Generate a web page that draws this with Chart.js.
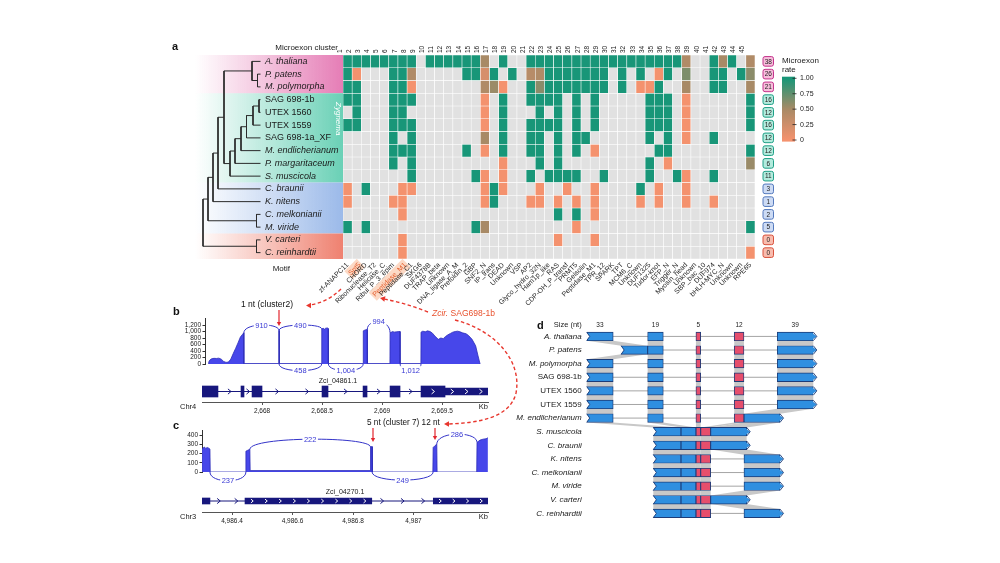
<!DOCTYPE html>
<html>
<head>
<meta charset="utf-8">
<script src="https://cdn.jsdelivr.net/npm/chart.js@4.4.0/dist/chart.umd.min.js"></script>
<style>
  html, body { margin: 0; padding: 0; background: #fff; }
  #page { position: relative; width: 1000px; height: 563px; overflow: hidden; background: #fff; }
  #page canvas { position: absolute; }
</style>
</head>
<body>
<div id="page"></div>
<script>
// ==============================
// Data: panel a (microexon heatmap)
// ==============================
const _ = null;   // cluster absent in that genome

const species = ['A. thaliana', 'P. patens', 'M. polymorpha', 'SAG 698-1b', 'UTEX 1560', 'UTEX 1559',
  'SAG 698-1a_XF', 'M. endlicherianum', 'P. margaritaceum', 'S. muscicola', 'C. braunii', 'K. nitens',
  'C. melkonianii', 'M. viride', 'V. carteri', 'C. reinhardtii'];
const italicName = [true, true, true, false, false, false, false, true, true, true, true, true, true, true, true, true];
const speciesGroup = [0, 0, 0, 1, 1, 1, 1, 1, 1, 1, 2, 2, 2, 2, 3, 3];
const microexonCount = [38, 26, 21, 16, 12, 16, 12, 12, 6, 11, 3, 1, 2, 5, 0, 0];

const clusterIds = ['1','2','3','4','5','6','7','8','9','10','11','12','13','14','15','16','17','18','19','20',
  '21','22','23','24','25','26','27','28','29','30','31','32','33','34','35','36','37','38','39','40',
  '41','42','43','44','45'];
const motifs = ['zf-ANAPC11', 'Spt5', 'CHORD', 'Ribonuclease_T2', 'Helicase_C', 'Ribul_P_3_epim', 'Peptidase_M1',
  'Peptidase_C1', 'SKG6', 'DUF4378B', 'TRAP_beta', 'Unknown', 'DNA_ligase_A_M', 'Prefoldin_2', 'GBP', 'SNF2_N',
  'IP_trans', 'DEAD', 'Unknown', 'VSP', 'AP2', 'Glyco_hydro_32N', 'Ham1p_like', 'RAS', 'CDP-OH_P_transf', 'PRMT5',
  'Gelsolin', 'Peptidase_M1', 'TPR_12', 'SPARK', 'TPT', 'MCM6_C', 'Unknown', 'DUF1325', 'Tudor-knot', 'EFP_N',
  'Trigger_N', 'Myosin_head', 'Unknown', 'SBP_bac_10', 'DUF974', 'bHLH-MYC_N', 'Unknown', 'Unknown', 'RPE65'];
const highlightedMotifs = [1, 6];

// microexon rate per cluster (groups of 5 clusters)
const rateAthal    = [1,1,1,1,1,  1,1,1,_,1,  1,1,1,1,1,  .5,_,1,_,_,  1,1,1,1,1,  1,1,1,1,1,  1,1,1,1,1,  1,1,.45,_,_,  1,.5,1,_,.45];
const ratePpat     = [1,0,_,_,_,  1,1,.45,_,_,  _,_,_,1,1,  .2,1,_,1,_,  .4,.45,1,1,1,  1,1,1,1,_,  1,_,1,_,0,  1,_,.65,_,_,  1,1,_,1,.6];
const rateMpol     = [1,1,_,_,_,  1,1,0,_,_,  _,_,_,_,_,  .45,.55,0,_,_,  1,.6,1,1,1,  1,1,1,1,_,  1,_,0,0,1,  _,_,.5,_,_,  1,1,_,_,.5];
const rateSag1b    = [1,1,_,_,_,  1,1,1,_,_,  _,_,_,_,_,  0,_,1,_,_,  1,1,1,1,_,  1,_,1,_,_,  _,_,_,1,1,  1,_,0,_,_,  _,_,_,_,1];
const rateUtex1560 = [_,1,_,_,_,  1,1,_,_,_,  _,_,_,_,_,  0,_,1,_,_,  _,1,_,1,_,  1,_,1,_,_,  _,_,_,1,1,  1,_,0,_,_,  _,_,_,_,1];
const rateUtex1559 = [1,1,_,_,_,  1,1,1,_,_,  _,_,_,_,_,  0,_,1,_,_,  1,1,1,1,_,  1,_,1,_,_,  _,_,_,1,1,  1,_,0,_,_,  _,_,_,_,1];
const rateSagXF    = [_,_,_,_,_,  1,_,1,_,_,  _,_,_,_,_,  .5,_,1,_,_,  1,1,_,1,_,  1,1,_,_,_,  _,_,_,1,_,  1,_,0,_,_,  1,_,_,_,_];
const rateMendl    = [_,_,_,_,_,  1,1,1,_,_,  _,_,_,1,_,  0,_,1,_,_,  1,1,_,1,_,  1,_,0,_,_,  _,_,_,_,1,  1,_,_,_,_,  _,_,_,_,1];
const ratePmarg    = [_,_,_,_,_,  1,_,1,_,_,  _,_,_,_,_,  _,_,0,_,_,  _,1,_,1,_,  _,_,_,_,_,  _,_,_,1,_,  0,_,_,_,_,  _,_,_,_,.55];
const rateSmusc    = [_,_,_,_,_,  _,_,1,_,_,  _,_,_,_,1,  0,_,0,_,_,  1,_,1,1,1,  1,_,_,1,_,  _,_,_,1,_,  _,1,0,_,_,  1,_,_,_,_];
const rateCbraun   = [0,_,1,_,_,  _,0,0,_,_,  _,_,_,_,_,  0,1,0,_,_,  _,0,_,_,0,  _,_,0,_,_,  _,_,1,_,0,  _,_,0,_,_,  _,_,_,_,_];
const rateKnit     = [0,_,_,_,_,  0,0,_,_,_,  _,_,_,_,_,  0,1,_,_,_,  0,0,_,0,_,  0,_,0,_,_,  _,_,0,_,0,  _,_,0,_,_,  0,_,_,_,_];
const rateCmelk    = [_,_,_,_,_,  _,0,_,_,_,  _,_,_,_,_,  _,_,_,_,_,  _,_,_,1,_,  1,_,0,_,_,  _,_,_,_,_,  _,_,_,_,_,  _,_,_,_,_];
const rateMvir     = [1,_,1,_,_,  _,_,_,_,_,  _,_,_,_,1,  .5,_,_,_,_,  _,_,_,_,_,  0,_,_,_,_,  _,_,_,_,_,  _,_,_,_,_,  _,_,_,_,1];
const rateVcar     = [_,_,_,_,_,  _,0,_,_,_,  _,_,_,_,_,  _,_,_,_,_,  _,_,_,0,_,  _,_,0,_,_,  _,_,_,_,_,  _,_,_,_,_,  _,_,_,_,_];
const rateCrein    = [_,_,_,_,_,  _,0,_,_,_,  _,_,_,_,_,  _,_,_,_,_,  _,_,_,_,_,  _,_,_,_,_,  _,_,_,_,_,  _,_,_,_,_,  _,_,_,_,0];
const rateRows = [rateAthal, ratePpat, rateMpol, rateSag1b, rateUtex1560, rateUtex1559, rateSagXF, rateMendl,
  ratePmarg, rateSmusc, rateCbraun, rateKnit, rateCmelk, rateMvir, rateVcar, rateCrein];

const colorbarTicks = [1, 0.75, 0.5, 0.25, 0];
const colorbarLabels = ['1.00', '0.75', '0.50', '0.25', '0'];

// tree: [node, depth, child, child]; tips sit at tipDepth
const tipDepth = 57.5;
const treeNodes = [
  ['ppmp', 54.5, 'P. patens', 'M. polymorpha'],
  ['embryo', 49, 'A. thaliana', 'ppmp'],
  ['z1', 56, 'SAG 698-1b', 'UTEX 1560'],
  ['z2', 50, 'z1', 'UTEX 1559'],
  ['z3', 43.5, 'z2', 'SAG 698-1a_XF'],
  ['z4', 38, 'z3', 'M. endlicherianum'],
  ['z5', 32, 'z4', 'P. margaritaceum'],
  ['zyg', 27, 'z5', 'S. muscicola'],
  ['landzyg', 21, 'embryo', 'zyg'],
  ['cb', 15, 'landzyg', 'C. braunii'],
  ['kn', 10, 'cb', 'K. nitens'],
  ['mm', 53.5, 'C. melkonianii', 'M. viride'],
  ['strepto', 5, 'kn', 'mm'],
  ['chloro', 53.5, 'V. carteri', 'C. reinhardtii'],
  ['root', 0, 'strepto', 'chloro']
];

// ==============================
// Data: panel b (Zci_04861.1)
// ==============================
const coverageBPos = [2667.552, 2667.556, 2667.565, 2667.58, 2667.60, 2667.62, 2667.64, 2667.66, 2667.68, 2667.70,
  2667.72, 2667.74, 2667.76, 2667.78, 2667.80, 2667.82, 2667.835, 2667.848, 2667.849, 2668.140,
  2668.141, 2668.143, 2668.144, 2668.497, 2668.498, 2668.51, 2668.52, 2668.53, 2668.545, 2668.552,
  2668.553, 2668.843, 2668.844, 2668.86, 2668.877, 2668.878, 2669.066, 2669.067, 2669.09, 2669.10,
  2669.12, 2669.15, 2669.151, 2669.324, 2669.325, 2669.34, 2669.36, 2669.38, 2669.40, 2669.42,
  2669.44, 2669.46, 2669.47, 2669.49, 2669.51, 2669.53, 2669.55, 2669.57, 2669.59, 2669.61,
  2669.63, 2669.65, 2669.67, 2669.70, 2669.72, 2669.75, 2669.78, 2669.80, 2669.817];
const coverageBVal = [0, 60, 120, 160, 175, 170, 180, 150, 80, 50,
  60, 150, 320, 480, 650, 830, 900, 960, 12, 12,
  1030, 1030, 12, 12, 1080, 1100, 1070, 1100, 1110, 1090,
  12, 12, 1020, 1050, 1060, 12, 12, 960, 1000, 980,
  990, 1000, 12, 12, 980, 1010, 990, 1020, 1000, 950,
  860, 790, 760, 800, 780, 850, 900, 940, 980, 1000,
  1010, 990, 960, 930, 880, 760, 560, 250, 0];
const covTicksB = [0, 200, 400, 600, 800, 1000, 1200];
const kbTicksB = [2668, 2668.5, 2669, 2669.5];
const junctionBFrom  = [2667.849, 2668.142, 2668.877, 2668.142, 2668.553, 2669.151];
const junctionBTo    = [2668.142, 2668.497, 2669.067, 2668.497, 2668.843, 2669.325];
const junctionBEnds  = [[960, 1030], [1030, 1080], [1060, 960], [0, 0], [0, 0], [0, 0]];
const junctionBPeak  = [1200, 1200, 1300, -205, -205, -205];
const junctionBReads = ['910', '490', '994', '458', '1,004', '1,012'];
const geneBExons = [[2667.50, 2667.633], [2667.825, 2667.85], [2667.917, 2668.0], [2668.5, 2668.55],
  [2668.842, 2668.875], [2669.067, 2669.15], [2669.325, 2669.525]];
const geneBUtr = [[2669.525, 2669.883]];

// ==============================
// Data: panel c (Zci_04270.1)
// ==============================
const coverageCPos = [4986.301, 4986.305, 4986.309, 4986.313, 4986.318, 4986.323, 4986.327, 4986.328,
  4986.445, 4986.446, 4986.452, 4986.459, 4986.460, 4986.857, 4986.858, 4986.863, 4986.864,
  4987.064, 4987.065, 4987.071, 4987.077, 4987.078, 4987.209, 4987.210, 4987.22, 4987.23, 4987.24, 4987.246];
const coverageCVal = [250, 262, 270, 255, 265, 258, 248, 0,
  0, 225, 235, 245, 15, 15, 270, 275, 0,
  0, 265, 285, 300, 0, 0, 320, 345, 355, 360, 370];
const covTicksC = [0, 100, 200, 300, 400];
const kbTicksC = [4986.4, 4986.6, 4986.8, 4987];
const junctionCFrom  = [4986.459, 4987.077, 4986.327, 4986.863];
const junctionCTo    = [4986.858, 4987.210, 4986.446, 4987.065];
const junctionCEnds  = [[245, 270], [300, 320], [0, 0], [0, 0]];
const junctionCPeak  = [355, 410, -95, -88];
const junctionCReads = ['222', '286', '237', '249'];
const geneCExons = [[4986.3008, 4986.327], [4986.443, 4986.862], [4987.0655, 4987.2463]];

// ==============================
// Data: panel d (exon alignment, schematic units 0-100)
// ==============================
const alignSpecies = ['A. thaliana', 'P. patens', 'M. polymorpha', 'SAG 698-1b', 'UTEX 1560', 'UTEX 1559',
  'M. endlicherianum', 'S. muscicola', 'C. braunii', 'K. nitens', 'C. melkonianii', 'M. viride', 'V. carteri', 'C. reinhardtii'];
const alignItalic = [true, true, true, false, false, false, true, true, true, true, true, true, true, true];
const exonSizes = ['33', '19', '5', '12', '39'];
const exonSizeCenters = [5.85, 30.35, 49.25, 67.25, 92];
const exon33 = [[0, 11.7], [15.2, 26.9], [0, 11.7], [0, 11.7], [0, 11.7], [0, 11.7], [0, 11.7],
  [29.4, 41.6], [29.4, 41.6], [29.4, 41.6], [29.4, 41.6], [29.4, 41.6], [29.4, 41.6], [29.4, 41.6]];
const exon19 = [[26.9, 33.8], [26.9, 33.8], [26.9, 33.8], [26.9, 33.8], [26.9, 33.8], [26.9, 33.8], [26.9, 33.8],
  [41.6, 48.2], [41.6, 48.2], [41.6, 48.2], [41.6, 48.2], [41.6, 48.2], [41.6, 48.2], [41.6, 48.2]];
const exon5 = [[48.2, 50.3], [48.2, 50.3], [48.2, 50.3], [48.2, 50.3], [48.2, 50.3], [48.2, 50.3], [48.2, 50.3],
  [48.2, 50.3], [48.2, 50.3], [48.2, 50.3], [48.2, 50.3], [48.2, 50.3], [48.2, 50.3], [48.2, 50.3]];
const exon12 = [[65.1, 69.4], [65.1, 69.4], [65.1, 69.4], [65.1, 69.4], [65.1, 69.4], [65.1, 69.4], [65.1, 69.4],
  [50.3, 54.7], [50.3, 54.7], [50.3, 54.7], [50.3, 54.7], [50.3, 54.7], [50.3, 54.7], [50.3, 54.7]];
const exon39 = [[84.1, 100], [84.1, 100], [84.1, 100], [84.1, 100], [84.1, 100], [84.1, 100], [69.4, 85.3],
  [54.7, 70.6], [54.7, 70.6], [69.4, 85.3], [69.4, 85.3], [69.4, 85.3], [54.7, 70.6], [69.4, 85.3]];

// ==============================
// Common settings
// ==============================
const FONT = "'Liberation Sans', Arial, Helvetica, sans-serif";
Chart.defaults.font.family = FONT;
Chart.defaults.color = '#1a1a1a';
Chart.defaults.animation = false;
Chart.defaults.events = [];
Chart.defaults.plugins.legend.display = false;
Chart.defaults.plugins.tooltip.enabled = false;

const groupFill = ['#f7bddb', '#b3ebdd', '#cddbf4', '#f8bcae'];
const groupStroke = ['#c4348c', '#1f9f86', '#5479bd', '#d8513c'];
const bandRgb = ['228,118,178', '98,206,178', '150,182,232', '238,122,104'];
const NAVY = '#17177d';

const cLow = [244, 146, 110], cMid = [168, 138, 102], cHigh = [24, 150, 120];
function mix(a, b, t) {
  return 'rgb(' + a.map((v, i) => Math.round(v + (b[i] - v) * t)).join(',') + ')';
}
function rateColor(v) {
  if (v === null) return '#e1e1e1';
  return v < 0.5 ? mix(cLow, cMid, v / 0.5) : mix(cMid, cHigh, (v - 0.5) / 0.5);
}

function addCanvas(left, top, width, height) {
  const c = document.createElement('canvas');
  c.width = width; c.height = height;
  c.style.left = left + 'px'; c.style.top = top + 'px';
  c.style.width = width + 'px'; c.style.height = height + 'px';
  document.getElementById('page').appendChild(c);
  return c;
}
function roundRect(ctx, x, y, w, h, r) {
  ctx.beginPath();
  ctx.moveTo(x + r, y); ctx.lineTo(x + w - r, y); ctx.quadraticCurveTo(x + w, y, x + w, y + r);
  ctx.lineTo(x + w, y + h - r); ctx.quadraticCurveTo(x + w, y + h, x + w - r, y + h);
  ctx.lineTo(x + r, y + h); ctx.quadraticCurveTo(x, y + h, x, y + h - r);
  ctx.lineTo(x, y + r); ctx.quadraticCurveTo(x, y, x + r, y); ctx.closePath();
}
function chevron(ctx, cx, cy, s, color, lw) {
  ctx.beginPath();
  ctx.moveTo(cx - s * 0.6, cy - s); ctx.lineTo(cx + s * 0.6, cy); ctx.lineTo(cx - s * 0.6, cy + s);
  ctx.strokeStyle = color; ctx.lineWidth = lw; ctx.stroke();
}

// ==============================
// Panel a: tree + species labels
// ==============================
const treeBands = {
  id: 'treeBands',
  beforeDraw(chart) {
    const {ctx, scales: {y}} = chart;
    const groups = [[0, 2], [3, 9], [10, 13], [14, 15]];
    ctx.save();
    groups.forEach(([r0, r1], g) => {
      const top = y.getPixelForValue(r0 - 0.5), bot = y.getPixelForValue(r1 + 0.5);
      const x0 = 25, x1 = 173;
      const grad = ctx.createLinearGradient(x0, 0, x1, 0);
      grad.addColorStop(0, 'rgba(' + bandRgb[g] + ',0)');
      grad.addColorStop(0.5, 'rgba(' + bandRgb[g] + ',0.45)');
      grad.addColorStop(1, 'rgba(' + bandRgb[g] + ',0.95)');
      ctx.fillStyle = grad;
      ctx.fillRect(x0, top, x1 - x0, bot - top);
    });
    ctx.restore();
  },
  afterDraw(chart) {
    const {ctx, scales: {y}} = chart;
    ctx.save();
    const yc = (y.getPixelForValue(2.5) + y.getPixelForValue(6.5)) / 2;
    ctx.translate(168, yc);
    ctx.rotate(Math.PI / 2);
    ctx.font = 'italic 8px ' + FONT;
    ctx.fillStyle = '#ffffff';
    ctx.textAlign = 'center'; ctx.textBaseline = 'middle';
    ctx.fillText('Zygnema', 0, 0);
    ctx.restore();
  }
};

const tipPos = {};
species.forEach((s, i) => { tipPos[s] = {x: tipDepth, y: i}; });
const treeSegments = treeNodes.map(([id, depth, a, b]) => {
  const A = tipPos[a], B = tipPos[b];
  tipPos[id] = {x: depth, y: (A.y + B.y) / 2};
  return [{x: A.x, y: A.y}, {x: depth, y: A.y}, {x: depth, y: B.y}, {x: B.x, y: B.y}];
});

new Chart(addCanvas(170, 30, 175, 240), {
  type: 'scatter',
  data: {
    datasets: treeSegments.map(seg => ({
      data: seg, showLine: true, borderColor: '#2a2a2a', borderWidth: 1, pointRadius: 0,
      fill: false, clip: false, xAxisID: 'x', yAxisID: 'y'
    }))
  },
  options: {
    responsive: false,
    layout: {padding: {left: 30, right: 1, top: 25, bottom: 11}},
    scales: {
      x: {type: 'linear', min: -3, max: 59, display: false},
      y: {type: 'linear', min: -0.5, max: 15.5, reverse: true, display: false},
      yLab: {
        type: 'category', labels: species, position: 'right', offset: true,
        grid: {display: false, drawTicks: false}, border: {display: false},
        ticks: {autoSkip: false, crossAlign: 'near', padding: 3, color: '#1a1a1a',
          font: c => ({size: 9, style: italicName[c.index] ? 'italic' : 'normal'})},
        afterFit: s => { s.width = 82; }
      }
    }
  },
  plugins: [treeBands]
});

// ==============================
// Panel a: heatmap
// ==============================
const heatExtras = {
  id: 'heatExtras',
  afterDraw(chart) {
    const {ctx, chartArea: a, scales: {y}} = chart;
    ctx.save();
    ctx.fillStyle = '#1a1a1a'; ctx.textBaseline = 'middle'; ctx.textAlign = 'right';
    ctx.font = '8px ' + FONT;
    ctx.fillText('Microexon cluster', a.left - 5, 48);
    ctx.fillText('Motif', a.left - 53, 269);

    // microexon counts per genome
    species.forEach((sp, r) => {
      const yc = (y.getPixelForValue(r) + y.getPixelForValue(r + 1)) / 2;
      const g = speciesGroup[r];
      const bx = a.right + 8, bw = 10.5, bh = 9.6;
      roundRect(ctx, bx, yc - bh / 2, bw, bh, 2);
      ctx.fillStyle = groupFill[g]; ctx.fill();
      ctx.lineWidth = 1; ctx.strokeStyle = groupStroke[g]; ctx.stroke();
      ctx.fillStyle = '#222'; ctx.textAlign = 'center';
      ctx.font = '6.5px ' + FONT;
      ctx.fillText(String(microexonCount[r]), bx + bw / 2, yc + 0.5);
    });

    // colour bar
    const cbX = a.right + 27, cbW = 13, v1 = 78.3, v0 = 140;
    const grad = ctx.createLinearGradient(0, v1, 0, v0);
    grad.addColorStop(0, rateColor(1)); grad.addColorStop(0.5, rateColor(0.5)); grad.addColorStop(1, rateColor(0));
    ctx.fillStyle = grad;
    ctx.fillRect(cbX, v1 - 1.6, cbW, v0 - v1 + 3.2);
    ctx.textAlign = 'left'; ctx.font = '7px ' + FONT;
    colorbarTicks.forEach((t, i) => {
      const yy = v0 - t * (v0 - v1);
      ctx.beginPath(); ctx.moveTo(cbX + cbW - 2.5, yy); ctx.lineTo(cbX + cbW + 1.5, yy);
      ctx.strokeStyle = '#222'; ctx.lineWidth = 0.8; ctx.stroke();
      ctx.fillStyle = '#1a1a1a';
      ctx.fillText(colorbarLabels[i], cbX + cbW + 5, yy);
    });
    ctx.font = '8px ' + FONT;
    ctx.fillText('Microexon', cbX, 61);
    ctx.fillText('rate', cbX, 70);
    ctx.restore();
  }
};

new Chart(addCanvas(250, 0, 600, 340), {
  type: 'bar',
  data: {
    labels: motifs,
    datasets: species.map((sp, r) => ({
      label: sp,
      data: motifs.map(() => 1),
      backgroundColor: rateRows[r].map(rateColor),
      borderColor: '#ffffff', borderWidth: 0.6, borderSkipped: false,
      barPercentage: 1, categoryPercentage: 1,
      xAxisID: 'x', yAxisID: 'y'
    }))
  },
  options: {
    responsive: false,
    layout: {padding: {left: 93, right: 95, top: 41, bottom: 21}},
    scales: {
      x: {
        type: 'category', position: 'bottom', stacked: true, offset: true,
        grid: {display: false, drawTicks: false}, border: {display: false},
        ticks: {
          autoSkip: false, minRotation: 45, maxRotation: 45, padding: 2,
          font: {size: 7},
          color: c => highlightedMotifs.includes(c.index) ? '#e45b2a' : '#1f1f1f',
          showLabelBackdrop: c => highlightedMotifs.includes(c.index),
          backdropColor: '#fcd9c5', backdropPadding: 1.5
        },
        afterFit: s => { s.height = 60; }
      },
      xTop: {
        type: 'category', labels: clusterIds, position: 'top', offset: true,
        grid: {display: false, drawTicks: false}, border: {display: false},
        ticks: {autoSkip: false, minRotation: 90, maxRotation: 90, padding: 2, font: {size: 6.5}},
        afterFit: s => { s.height = 14; }
      },
      y: {stacked: true, min: 0, max: 16, reverse: true, display: false}
    }
  },
  plugins: [heatExtras]
});

// ==============================
// Panels b and c: coverage with junction arcs
// ==============================
function arcsPlugin(from, to, ends, peak, reads) {
  return {
    id: 'arcs',
    afterDatasetsDraw(chart) {
      const {ctx, scales: {x, y}} = chart;
      ctx.save();
      from.forEach((f, i) => {
        const x1 = x.getPixelForValue(f), x2 = x.getPixelForValue(to[i]);
        const y1 = y.getPixelForValue(ends[i][0]), y2 = y.getPixelForValue(ends[i][1]);
        const yp = y.getPixelForValue(peak[i]);
        const yc = (8 * yp - y1 - y2) / 6;
        ctx.beginPath(); ctx.moveTo(x1, y1);
        ctx.bezierCurveTo(x1, yc, x2, yc, x2, y2);
        ctx.strokeStyle = '#3333c8'; ctx.lineWidth = 1; ctx.stroke();
        const xm = (x1 + x2) / 2;
        ctx.font = '7.5px ' + FONT;
        const w = ctx.measureText(reads[i]).width;
        ctx.fillStyle = '#ffffff';
        ctx.fillRect(xm - w / 2 - 1.5, yp - 4.5, w + 3, 9);
        ctx.fillStyle = '#3838d4'; ctx.textAlign = 'center'; ctx.textBaseline = 'middle';
        ctx.fillText(reads[i], xm, yp + 0.5);
      });
      ctx.restore();
    }
  };
}

function coverageChart(canvas, pos, val, xmin, xmax, ymax, ticks, pad, axisW, arcs) {
  return new Chart(canvas, {
    type: 'line',
    data: {
      datasets: [{
        data: pos.map((p, i) => ({x: p, y: val[i]})),
        fill: 'origin', backgroundColor: '#4747ea', borderColor: '#2c2cb8', borderWidth: 0.8,
        pointRadius: 0, tension: 0
      }]
    },
    options: {
      responsive: false,
      layout: {padding: pad},
      scales: {
        x: {type: 'linear', min: xmin, max: xmax, display: false},
        y: {
          type: 'linear', min: 0, max: ymax,
          afterBuildTicks: s => { s.ticks = ticks.map(v => ({value: v})); },
          ticks: {autoSkip: false, font: {size: 6.5}, padding: 1.5, color: '#1a1a1a',
            callback: v => v.toLocaleString('en-US')},
          grid: {drawOnChartArea: false, tickLength: 2.5, color: '#333'},
          border: {color: '#333'},
          afterFit: s => { s.width = axisW; }
        }
      }
    },
    plugins: [arcs]
  });
}

coverageChart(addCanvas(165, 300, 340, 82), coverageBPos, coverageBVal, 2667.525, 2669.883, 1400, covTicksB,
  {left: 15, right: 17, top: 18.5, bottom: 18}, 25,
  arcsPlugin(junctionBFrom, junctionBTo, junctionBEnds, junctionBPeak, junctionBReads));

coverageChart(addCanvas(165, 415, 340, 75), coverageCPos, coverageCVal, 4986.3008, 4987.2463, 450, covTicksC,
  {left: 13, right: 17, top: 15.4, bottom: 18}, 24,
  arcsPlugin(junctionCFrom, junctionCTo, junctionCEnds, junctionCPeak, junctionCReads));

// ==============================
// Panels b and c: gene models
// ==============================
function geneDecor(opts) {
  return {
    id: 'geneDecor',
    beforeDatasetsDraw(chart) {
      const {ctx, scales: {x, y}} = chart;
      const yc = y.getPixelForValue(0);
      const all = opts.parts.slice().sort((p, q) => p[0] - q[0]);
      ctx.save();
      ctx.strokeStyle = NAVY; ctx.lineWidth = 1;
      ctx.beginPath();
      ctx.moveTo(x.getPixelForValue(all[0][0]), yc);
      ctx.lineTo(x.getPixelForValue(all[all.length - 1][1]), yc);
      ctx.stroke();
      for (let i = 0; i < all.length - 1; i++) {
        const a = x.getPixelForValue(all[i][1]), b = x.getPixelForValue(all[i + 1][0]);
        const gap = b - a;
        if (gap < 8) continue;
        const n = Math.max(1, Math.round(gap / opts.intronStep));
        for (let k = 0; k < n; k++) chevron(ctx, a + (k + 0.5) * gap / n, yc, 2.6, NAVY, 1);
      }
      ctx.restore();
    },
    afterDatasetsDraw(chart) {
      const {ctx, chartArea: ca, scales: {x, y}} = chart;
      const yc = y.getPixelForValue(0);
      ctx.save();
      opts.parts.forEach(([s, e]) => {
        const a = x.getPixelForValue(s), b = x.getPixelForValue(e);
        const w = b - a;
        if (w < 20) return;
        const n = Math.floor(w / 13);
        for (let k = 0; k < n; k++) chevron(ctx, a + (k + 0.5) * w / n, yc, opts.whiteSize, '#ffffff', 1);
      });
      ctx.fillStyle = '#1a1a1a'; ctx.textBaseline = 'middle';
      ctx.font = '7px ' + FONT; ctx.textAlign = 'center';
      ctx.fillText(opts.name, x.getPixelForValue(opts.nameAt), yc - opts.nameDy);
      ctx.font = '7.5px ' + FONT; ctx.textAlign = 'left';
      ctx.fillText(opts.chr, ca.left - 22, ca.bottom + 4.5);
      ctx.textAlign = 'right';
      ctx.fillText('Kb', ca.right, ca.bottom + 4.5);
      ctx.restore();
    }
  };
}

function geneChart(canvas, thick, thin, thickW, thinW, xmin, xmax, ticks, pad, decor) {
  const sets = [{data: thick.map(([s, e]) => ({x: [s, e], y: 0})), barThickness: thickW}];
  if (thin.length) sets.push({data: thin.map(([s, e]) => ({x: [s, e], y: 0})), barThickness: thinW});
  return new Chart(canvas, {
    type: 'bar',
    data: {datasets: sets.map(d => Object.assign(d, {backgroundColor: NAVY, grouped: false, borderWidth: 0}))},
    options: {
      indexAxis: 'y', responsive: false,
      layout: {padding: pad},
      scales: {
        x: {
          type: 'linear', min: xmin, max: xmax,
          afterBuildTicks: s => { s.ticks = ticks.map(v => ({value: v})); },
          ticks: {autoSkip: false, font: {size: 6.5}, padding: 2, maxRotation: 0, color: '#1a1a1a',
            callback: v => v.toLocaleString('en-US', {maximumFractionDigits: 1})},
          grid: {drawOnChartArea: false, tickLength: 3, color: '#555'},
          border: {color: '#555'},
          afterFit: s => { s.height = 14; }
        },
        y: {type: 'linear', min: -1, max: 1, display: false}
      }
    },
    plugins: [decor]
  });
}

geneChart(addCanvas(165, 375, 340, 45), geneBExons, geneBUtr, 11, 7, 2667.5, 2669.883, kbTicksB,
  {left: 37, right: 17, top: 6, bottom: 4},
  geneDecor({parts: geneBExons.concat(geneBUtr), intronStep: 25, whiteSize: 2.4,
    name: 'Zci_04861.1', nameAt: 2668.633, nameDy: 10, chr: 'Chr4'}));

geneChart(addCanvas(165, 485, 340, 45), geneCExons, [], 6, 6, 4986.3008, 4987.2463, kbTicksC,
  {left: 37, right: 17, top: 5, bottom: 4},
  geneDecor({parts: geneCExons, intronStep: 18, whiteSize: 1.9,
    name: 'Zci_04270.1', nameAt: 4986.7736, nameDy: 9, chr: 'Chr3'}));

// ==============================
// Panel d: exon alignment
// ==============================
const BLUE = '#2f8fe0', RED = '#e64e6c', EDGE = '#1c3c78';
const alignDecor = {
  id: 'alignDecor',
  beforeDatasetsDraw(chart) {
    const {ctx} = chart;
    const metas = chart.data.datasets.map((d, i) => chart.getDatasetMeta(i).data);
    const lo = e => Math.min(e.x, e.base), hi = e => Math.max(e.x, e.base);
    ctx.save();
    alignSpecies.forEach((sp, r) => {
      const els = metas.map(m => m[r]);
      ctx.beginPath();
      ctx.moveTo(Math.min(...els.map(lo)), els[0].y);
      ctx.lineTo(Math.max(...els.map(hi)), els[0].y);
      ctx.strokeStyle = '#a4a4a4'; ctx.lineWidth = 1; ctx.stroke();
    });
    ctx.fillStyle = '#c8c8c8';
    metas.forEach(m => {
      for (let r = 0; r < m.length - 1; r++) {
        const p = m[r], q = m[r + 1];
        const pb = p.y + p.height / 2, qt = q.y - q.height / 2;
        ctx.beginPath();
        ctx.moveTo(lo(p), pb); ctx.lineTo(hi(p), pb); ctx.lineTo(hi(q), qt); ctx.lineTo(lo(q), qt);
        ctx.closePath(); ctx.fill();
      }
    });
    ctx.restore();
  },
  afterDatasetsDraw(chart) {
    const {ctx} = chart;
    const first = chart.getDatasetMeta(0).data, last = chart.getDatasetMeta(4).data;
    ctx.save();
    ctx.lineWidth = 0.9; ctx.strokeStyle = EDGE;
    first.forEach(e => {
      const l = Math.min(e.x, e.base), t = e.y - e.height / 2, b = e.y + e.height / 2;
      ctx.beginPath(); ctx.moveTo(l - 0.6, t - 0.3); ctx.lineTo(l + 3, e.y); ctx.lineTo(l - 0.6, b + 0.3); ctx.closePath();
      ctx.fillStyle = '#ffffff'; ctx.fill();
      ctx.beginPath(); ctx.moveTo(l, t); ctx.lineTo(l + 3, e.y); ctx.lineTo(l, b); ctx.stroke();
    });
    last.forEach(e => {
      const r = Math.max(e.x, e.base), t = e.y - e.height / 2, b = e.y + e.height / 2;
      ctx.beginPath(); ctx.moveTo(r - 1.3, t + 0.9); ctx.lineTo(r + 3.5, e.y); ctx.lineTo(r - 1.3, b - 0.9); ctx.closePath();
      ctx.fillStyle = BLUE; ctx.fill();
      ctx.beginPath(); ctx.moveTo(r, t); ctx.lineTo(r + 3.5, e.y); ctx.lineTo(r, b); ctx.stroke();
    });
    ctx.restore();
  },
  afterDraw(chart) {
    const {ctx, chartArea: a} = chart;
    ctx.save();
    ctx.font = '7.5px ' + FONT; ctx.fillStyle = '#1a1a1a';
    ctx.textAlign = 'right'; ctx.textBaseline = 'middle';
    ctx.fillText('Size (nt)', a.left - 5, 25);
    ctx.restore();
  }
};

new Chart(addCanvas(500, 300, 340, 230), {
  type: 'bar',
  data: {
    labels: alignSpecies,
    datasets: [
      {label: '33', data: exon33, backgroundColor: BLUE},
      {label: '19', data: exon19, backgroundColor: BLUE},
      {label: '5', data: exon5, backgroundColor: RED},
      {label: '12', data: exon12, backgroundColor: RED},
      {label: '39', data: exon39, backgroundColor: BLUE}
    ].map(d => Object.assign(d, {borderColor: EDGE, borderWidth: 0.9, borderSkipped: false,
      barThickness: 8.6, grouped: false, xAxisID: 'x', yAxisID: 'y'}))
  },
  options: {
    indexAxis: 'y', responsive: false,
    layout: {padding: {left: 0, right: 26.7, top: 18, bottom: 6.5}},
    scales: {
      x: {type: 'linear', min: 0, max: 100, display: false},
      xTop: {
        type: 'linear', position: 'top', min: 0, max: 100,
        afterBuildTicks: s => { s.ticks = exonSizeCenters.map(v => ({value: v})); },
        ticks: {autoSkip: false, callback: (v, i) => exonSizes[i], font: {size: 6.5}, padding: 0, maxRotation: 0, color: '#1a1a1a'},
        grid: {display: false, drawTicks: false}, border: {display: false},
        afterFit: s => { s.height = 11.6; }
      },
      y: {
        type: 'category', grid: {display: false, drawTicks: false}, border: {display: false},
        ticks: {autoSkip: false, padding: 5, color: '#1a1a1a',
          font: c => ({size: 8, style: alignItalic[c.index] ? 'italic' : 'normal'})},
        afterFit: s => { s.width = 86.7; }
      }
    }
  },
  plugins: [alignDecor]
});

// ==============================
// Annotations across panels
// ==============================
function arrowHead(ctx, x, y, ang, size, color) {
  ctx.save();
  ctx.translate(x, y); ctx.rotate(ang);
  ctx.beginPath(); ctx.moveTo(0, 0); ctx.lineTo(-size, -size * 0.55); ctx.lineTo(-size, size * 0.55); ctx.closePath();
  ctx.fillStyle = color; ctx.fill();
  ctx.restore();
}
function drawAnnotations() {
  const ctx = addCanvas(0, 0, 1000, 563).getContext('2d');
  ctx.textBaseline = 'middle';
  ctx.fillStyle = '#111';
  ctx.font = 'bold 11px ' + FONT;
  ctx.fillText('a', 172, 47);
  ctx.fillText('b', 173, 312);
  ctx.fillText('c', 173, 426);
  ctx.fillText('d', 537, 326);

  ctx.font = '8.5px ' + FONT;
  ctx.fillText('1 nt (cluster2)', 241, 305);
  ctx.font = '8.2px ' + FONT;
  ctx.fillText('5 nt (cluster 7) 12 nt', 367, 423);

  const RD = '#e2262e';
  ctx.strokeStyle = RD; ctx.lineWidth = 1.2;
  [[279, 310, 326], [373, 428, 442], [435, 428, 440]].forEach(([x, y0, y1]) => {
    ctx.beginPath(); ctx.moveTo(x, y0); ctx.lineTo(x, y1 - 3); ctx.stroke();
    arrowHead(ctx, x, y1, Math.PI / 2, 4, RD);
  });

  ctx.fillStyle = '#e8502c';
  ctx.font = 'italic 8.5px ' + FONT;
  ctx.fillText('Zcir.', 432, 314);
  const w = ctx.measureText('Zcir. ').width;
  ctx.font = '8.5px ' + FONT;
  ctx.fillText('SAG698-1b', 432 + w, 314);

  const DR = '#e8362d';
  ctx.strokeStyle = DR; ctx.lineWidth = 1.4; ctx.setLineDash([3.5, 2.5]);
  ctx.beginPath(); ctx.moveTo(341, 289); ctx.quadraticCurveTo(328, 302, 310, 305); ctx.stroke();
  ctx.beginPath(); ctx.moveTo(428, 312); ctx.quadraticCurveTo(405, 303, 384, 299); ctx.stroke();
  ctx.beginPath(); ctx.moveTo(455, 320);
  ctx.bezierCurveTo(497, 331, 522, 362, 516, 393);
  ctx.bezierCurveTo(510, 418, 478, 423, 448, 424);
  ctx.stroke();
  ctx.setLineDash([]);
  arrowHead(ctx, 306, 305.5, Math.PI, 5, DR);
  arrowHead(ctx, 380, 298, Math.atan2(298 - 303, 380 - 405), 5, DR);
  arrowHead(ctx, 444, 424, Math.PI, 5, DR);
}
drawAnnotations();
</script>
</body>
</html>
